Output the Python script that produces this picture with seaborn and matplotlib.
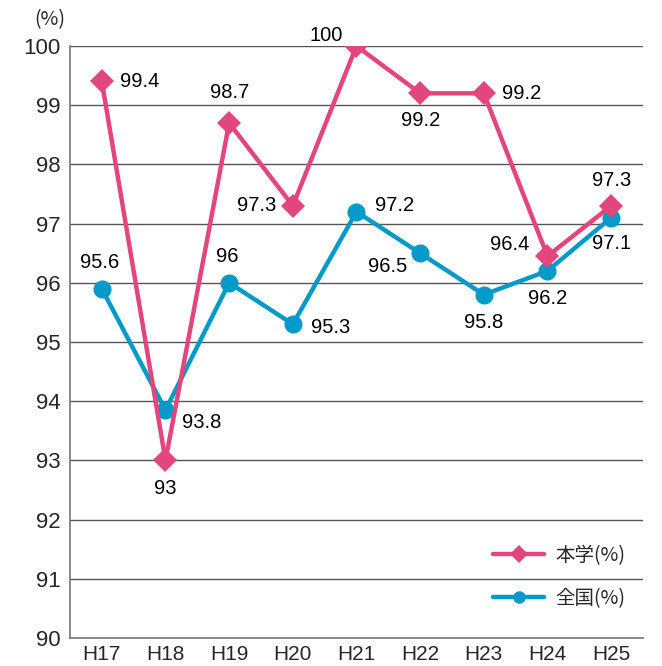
import matplotlib
matplotlib.use("Agg")
import matplotlib.pyplot as plt
import seaborn as sns
import pandas as pd

# data
years = ["H17", "H18", "H19", "H20", "H21", "H22", "H23", "H24", "H25"]
univ = [99.4, 93.0, 98.7, 97.3, 100.0, 99.2, 99.2, 96.45, 97.3]
univ_labels = ["99.4", "93", "98.7", "97.3", "100", "99.2", "99.2", "96.4", "97.3"]
nation = [95.9, 93.85, 96.0, 95.3, 97.2, 96.5, 95.8, 96.2, 97.1]
nation_labels = ["95.6", "93.8", "96", "95.3", "97.2", "96.5", "95.8", "96.2", "97.1"]

# label offsets in pixels (dx, dy)
univ_off = [(38, 0), (0, -28), (0, 30), (-36, 0), (-30, 10), (0, -27), (38, 0), (-38, 12), (0, 25)]
nation_off = [(-2, 26), (36, -12), (-2, 26), (38, -3), (38, 6), (-33, -13), (0, -28), (0, -28), (0, -26)]

sns.set_style("white")
plt.rcParams["font.family"] = ["Liberation Sans Narrow", "Liberation Sans", "Noto Sans CJK JP", "DejaVu Sans"]
cjk = ["Noto Sans CJK JP", "DejaVu Sans"]

pink = "#e2467c"
blue = "#0399c8"

df = pd.DataFrame({"x": list(range(len(years))) * 2,
                   "val": univ + nation,
                   "series": ["本学(%)"] * len(years) + ["全国(%)"] * len(years)})

fig = plt.figure(figsize=(6.62, 6.66), dpi=100)
ax = fig.add_axes([0.1057, 0.042, 0.8656, 0.889])

for y in range(91, 101):
    ax.axhline(y, color="#555555", lw=1.0, zorder=0)

sns.lineplot(data=df[df.series == "本学(%)"], x="x", y="val", color=pink, lw=3.2,
             marker="D", markersize=12, markeredgewidth=0, label="本学(%)", ax=ax, zorder=3)
sns.lineplot(data=df[df.series == "全国(%)"], x="x", y="val", color=blue, lw=3.2,
             marker="o", markersize=13, markeredgewidth=0, label="全国(%)", ax=ax, zorder=2)

for i, (v, t, o) in enumerate(zip(univ, univ_labels, univ_off)):
    ax.annotate(t, (i, v), xytext=o, textcoords="offset pixels", ha="center", va="center",
                fontsize=14.5, color="black")
for i, (v, t, o) in enumerate(zip(nation, nation_labels, nation_off)):
    ax.annotate(t, (i, v), xytext=o, textcoords="offset pixels", ha="center", va="center",
                fontsize=14.5, color="black")

ax.set_xlim(-0.5, 8.5)
ax.set_ylim(90, 100)
ax.set_xticks(range(len(years)))
ax.set_xticklabels(years, fontsize=15)
ax.set_yticks(range(90, 101))
ax.set_yticklabels([str(v) for v in range(90, 101)], fontsize=16)
ax.tick_params(axis="x", direction="in", length=5, color="#555555", pad=5)
ax.tick_params(axis="y", length=0, pad=7)
ax.set_xlabel("")
ax.set_ylabel("")
for s in ["top", "right"]:
    ax.spines[s].set_visible(False)
for s in ["left", "bottom"]:
    ax.spines[s].set_color("#777777")
    ax.spines[s].set_linewidth(1.2)

fig.text(0.075, 0.97, "(%)", fontsize=14, ha="center", va="center", family=cjk)

leg = ax.legend(loc="lower right", bbox_to_anchor=(1.0, 0.02), frameon=False,
                prop={"family": cjk, "size": 14},
                handlelength=2.6, labelspacing=1.1, handletextpad=0.6)
for h in leg.legend_handles:
    h.set_markersize(9)

fig.savefig("out.png", dpi=100)
